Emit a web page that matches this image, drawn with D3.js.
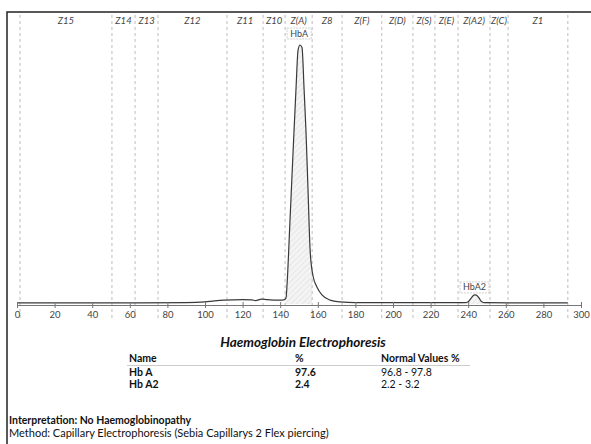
<!DOCTYPE html>
<html>
<head>
<meta charset="utf-8">
<script src="https://cdn.jsdelivr.net/npm/d3@7"></script>
<style>
  body { margin: 0; background: #fff; }
  svg { display: block; font-family: Lato, "Open Sans", sans-serif; }
</style>
</head>
<body>
<svg id="svg" width="591" height="444"></svg>
<script>
// electrophoretogram trace (migration position, relative absorbance)
let tracePos = [0, 50, 90, 100, 105, 110, 120, 125, 127, 130, 133, 140, 142, 143.1, 143.6, 145.2, 146.8, 148.4, 149.5, 150.5, 151.6, 152.7, 153.7, 154.8, 155.9, 157.4, 159.6, 162.2, 166.5, 171.8, 180, 238, 240, 241.5, 243, 244, 245.5, 247, 249, 293];
let traceVal = [0.4, 0.4, 0.5, 0.8, 1.2, 1.5, 1.7, 1.6, 1.3, 1.9, 1.7, 1.5, 1.6, 2.3, 7, 32, 58, 83, 98, 100, 99, 83, 67, 44, 21, 11, 6.5, 3.5, 1.5, 0.8, 0.5, 0.5, 0.9, 2.2, 3.4, 3.5, 2.6, 1.0, 0.5, 0.4];

// zone boundaries and names
let zoneEdges = [1.6, 50.5, 62.8, 75, 111.7, 130.9, 142.6, 157, 172.9, 194, 210.6, 222.3, 234.6, 251.6, 261.2, 293];
let zoneNames = ["Z15", "Z14", "Z13", "Z12", "Z11", "Z10", "Z(A)", "Z8", "Z(F)", "Z(D)", "Z(S)", "Z(E)", "Z(A2)", "Z(C)", "Z1"];

// identified fractions
let fractionNames = ["HbA", "HbA2"];
let fractionZones = ["Z(A)", "Z(A2)"];

let xTicks = [0, 20, 40, 60, 80, 100, 120, 140, 160, 180, 200, 220, 240, 260, 280, 300];

// results table
let rowNames = ["Hb A", "Hb A2"];
let rowPercent = ["97.6", "2.4"];
let rowNormal = ["96.8 - 97.8", "2.2 - 3.2"];

let svg = d3.select("#svg");

let x = d3.scaleLinear().domain([0, 300]).range([17, 581]);
let y = d3.scaleLinear().domain([0, 100]).range([304, 45]);

/* Frame */
svg.append("path")
  .attr("d", "M7,444 V12 H591")
  .attr("fill", "none")
  .attr("stroke", "#222")
  .attr("stroke-width", 1.5);

/* Hatch pattern */
let pat = svg.append("defs").append("pattern")
  .attr("id", "hatch")
  .attr("width", 4).attr("height", 4)
  .attr("patternUnits", "userSpaceOnUse")
  .attr("patternTransform", "rotate(45)");
pat.append("rect").attr("width", 4).attr("height", 4).attr("fill", "#f4f4f4");
pat.append("line").attr("x1", 0).attr("y1", 0).attr("x2", 0).attr("y2", 4)
  .attr("stroke", "#d8d8d8").attr("stroke-width", 1);

let pts = tracePos.map((p, i) => [p, traceVal[i]]);

/* Filled fractions */
fractionZones.forEach((z, k) => {
  let i = zoneNames.indexOf(z);
  let lo = zoneEdges[i], hi = zoneEdges[i + 1];
  svg.append("clipPath").attr("id", "clip" + k)
    .append("rect")
    .attr("x", x(lo)).attr("y", 0)
    .attr("width", x(hi) - x(lo)).attr("height", 444);
  svg.append("path")
    .datum(pts)
    .attr("clip-path", "url(#clip" + k + ")")
    .attr("fill", "url(#hatch)")
    .attr("d", d3.area().x(d => x(d[0])).y0(y(0)).y1(d => y(d[1])).curve(d3.curveMonotoneX));
});

/* Zone dashed lines */
svg.append("g").selectAll("line")
  .data(zoneEdges)
  .join("line")
  .attr("x1", d => x(d)).attr("x2", d => x(d))
  .attr("y1", 15).attr("y2", 319)
  .attr("stroke", "#bdbdbd")
  .attr("stroke-dasharray", "3,3");

/* Zone labels */
svg.append("g").selectAll("text")
  .data(zoneNames)
  .join("text")
  .attr("x", (d, i) => (x(zoneEdges[i]) + x(zoneEdges[i + 1])) / 2)
  .attr("y", 24)
  .attr("text-anchor", "middle")
  .attr("font-size", 9.5)
  .attr("font-style", "italic")
  .attr("fill", "#444")
  .text(d => d);

/* Fraction label boxes */
fractionNames.forEach((n, k) => {
  let i = zoneNames.indexOf(fractionZones[k]);
  let lo = x(zoneEdges[i]) + 2, hi = x(zoneEdges[i + 1]) - 1;
  let peak = d3.max(pts.filter(d => d[0] >= zoneEdges[i] && d[0] <= zoneEdges[i + 1]), d => d[1]);
  let top = k === 0 ? 28 : y(peak) - 13;
  svg.append("rect")
    .attr("x", lo).attr("y", top)
    .attr("width", hi - lo).attr("height", 11)
    .attr("fill", "#fff")
    .attr("stroke", "#d0d0d0")
    .attr("stroke-dasharray", "2,1");
  svg.append("text")
    .attr("x", (lo + hi) / 2).attr("y", top + 8.5)
    .attr("text-anchor", "middle")
    .attr("font-size", 9)
    .attr("fill", "#444")
    .text(n);
});

/* Trace */
svg.append("path")
  .datum(pts)
  .attr("fill", "none")
  .attr("stroke", "#3a3a3a")
  .attr("stroke-width", 1.2)
  .attr("d", d3.line().x(d => x(d[0])).y(d => y(d[1])).curve(d3.curveMonotoneX));

/* X axis */
let ax = svg.append("g")
  .attr("transform", "translate(0,305)")
  .call(d3.axisBottom(x).tickValues(xTicks).tickSize(3).tickSizeOuter(0));
ax.select(".domain").attr("stroke", "#777");
ax.selectAll(".tick line").attr("y1", -3).attr("y2", 3).attr("stroke", "#777");
ax.selectAll(".tick text")
  .attr("y", 6)
  .attr("font-family", "Lato, sans-serif")
  .attr("font-size", 9.5)
  .attr("fill", "#444");

/* Results table */
svg.append("text")
  .attr("x", 303).attr("y", 347)
  .attr("text-anchor", "middle")
  .attr("font-size", 13.5)
  .attr("font-weight", "bold")
  .attr("font-style", "italic")
  .attr("fill", "#111")
  .text("Haemoglobin Electrophoresis");

let cols = [129, 295, 381];
let header = svg.append("g").attr("font-size", 10.5).attr("font-weight", "bold").attr("fill", "#111");
["Name", "%", "Normal Values %"].forEach((h, i) => {
  header.append("text").attr("x", cols[i]).attr("y", 362).text(h);
});
svg.append("line")
  .attr("x1", 127).attr("x2", 470)
  .attr("y1", 365.5).attr("y2", 365.5)
  .attr("stroke", "#ccc");

let rows = svg.append("g").attr("font-size", 10.5).attr("fill", "#111");
rowNames.forEach((n, i) => {
  let ry = 376 + i * 12;
  rows.append("text").attr("x", cols[0]).attr("y", ry).attr("font-weight", "bold").text(n);
  rows.append("text").attr("x", cols[1]).attr("y", ry).attr("font-weight", "bold").text(rowPercent[i]);
  rows.append("text").attr("x", cols[2]).attr("y", ry).text(rowNormal[i]);
});

/* Interpretation */
svg.append("text")
  .attr("x", 9).attr("y", 424)
  .attr("font-size", 10.5)
  .attr("font-weight", "bold")
  .attr("fill", "#111")
  .text("Interpretation: No Haemoglobinopathy");
svg.append("text")
  .attr("x", 9).attr("y", 437)
  .attr("font-size", 11)
  .attr("fill", "#111")
  .text("Method: Capillary Electrophoresis (Sebia Capillarys 2 Flex piercing)");
</script>
</body>
</html>
